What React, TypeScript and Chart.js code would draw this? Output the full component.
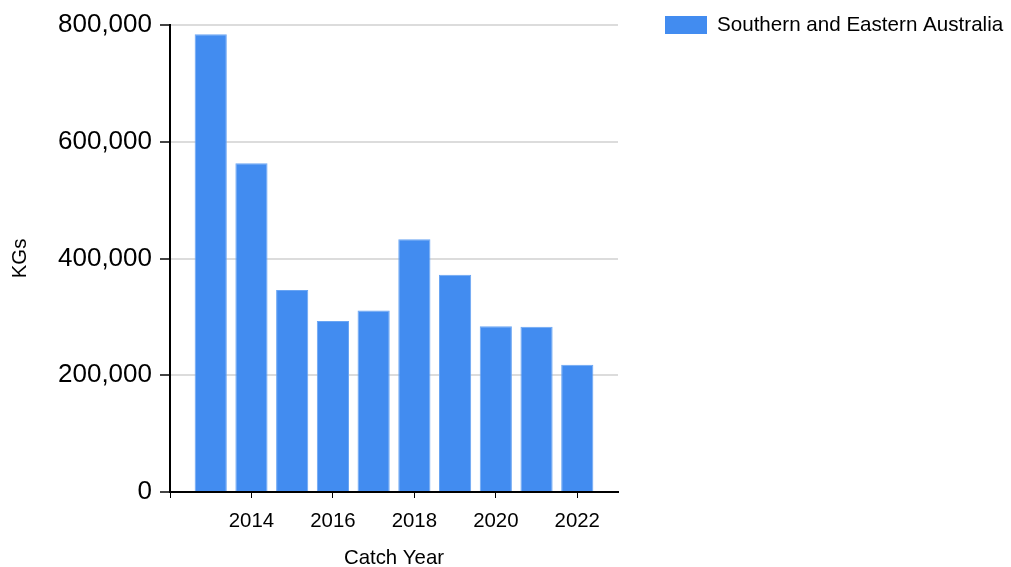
import React, { useEffect, useRef } from "react";
import { Chart, registerables } from "chart.js";

Chart.register(...registerables);

const years = [2013, 2014, 2015, 2016, 2017, 2018, 2019, 2020, 2021, 2022];
const catchKg = [784000, 563000, 346000, 293000, 311000, 433000, 372000, 284000, 283000, 218000];
const xTickYears = [2012, 2014, 2016, 2018, 2020, 2022];
const yTickValues = [0, 200000, 400000, 600000, 800000];
const seriesLabel = "Southern and Eastern Australia";
const xTitle = "Catch Year";
const yTitle = "KGs";

const FONT = "'Liberation Sans', Arial, sans-serif";
const BAR_COLOR = "#428cf0";

const legendPlugin = {
  id: "customLegend",
  afterDraw(chart: any) {
    const ctx = chart.ctx;
    ctx.save();
    ctx.fillStyle = BAR_COLOR;
    ctx.fillRect(665, 16, 42, 18);
    ctx.fillStyle = "#000";
    ctx.font = `20.6px ${FONT}`;
    ctx.textBaseline = "middle";
    ctx.textAlign = "left";
    ctx.fillText(chart.data.datasets[0].label, 717, 25.5);
    ctx.restore();
  },
};

export default function App() {
  const ref = useRef<HTMLCanvasElement>(null);
  useEffect(() => {
    const chart = new Chart(ref.current!, {
      type: "bar",
      data: {
        datasets: [
          {
            label: seriesLabel,
            data: years.map((y, i) => ({ x: y, y: catchKg[i] })),
            backgroundColor: BAR_COLOR,
            borderColor: "#6aa5f3",
            borderWidth: 1,
            barPercentage: 0.79,
            categoryPercentage: 1,
          },
        ],
      },
      options: {
        animation: false,
        responsive: false,
        layout: { padding: { left: 0, top: 25, right: 393, bottom: 0 } },
        plugins: { legend: { display: false }, tooltip: { enabled: false } },
        scales: {
          x: {
            type: "linear",
            offset: false,
            min: 2012,
            max: 2023,
            afterBuildTicks: (s: any) => {
              s.ticks = xTickYears.map((v) => ({ value: v }));
            },
            afterFit: (s: any) => {
              s.height = 75;
            },
            ticks: {
              color: "#000",
              font: { family: FONT, size: 20.4 },
              padding: 11,
              maxRotation: 0,
              autoSkip: false,
              callback: (v: any) => (v === 2012 ? "" : String(v)),
            },
            grid: { drawOnChartArea: false, offset: false, tickLength: 6, tickColor: "#000", lineWidth: 1 },
            border: { color: "#000", width: 2 },
            title: {
              display: true,
              text: xTitle,
              color: "#000",
              font: { family: FONT, size: 20.4, lineHeight: 0.8 },
              padding: { top: 0, bottom: 0 },
            },
          },
          y: {
            min: 0,
            max: 800000,
            afterBuildTicks: (s: any) => {
              s.ticks = yTickValues.map((v) => ({ value: v }));
            },
            afterFit: (s: any) => {
              s.width = 170;
            },
            ticks: {
              color: "#000",
              font: { family: FONT, size: 26 },
              padding: 8,
              callback: (v: any) => Number(v).toLocaleString("en-US"),
            },
            grid: {
              color: "#dcdcdc",
              lineWidth: 2,
              tickLength: 10,
              tickColor: "#444",
            },
            border: { color: "#000", width: 2 },
            title: {
              display: true,
              text: yTitle,
              color: "#000",
              font: { family: FONT, size: 20.4, lineHeight: 1 },
              padding: { top: 10, bottom: 0 },
            },
          },
        },
      },
      plugins: [legendPlugin],
    });
    return () => chart.destroy();
  }, []);
  return (
    <div style={{ position: "absolute", left: 0, top: 0, width: 1011, height: 567 }}>
      <canvas ref={ref} width={1011} height={567} />
    </div>
  );
}
